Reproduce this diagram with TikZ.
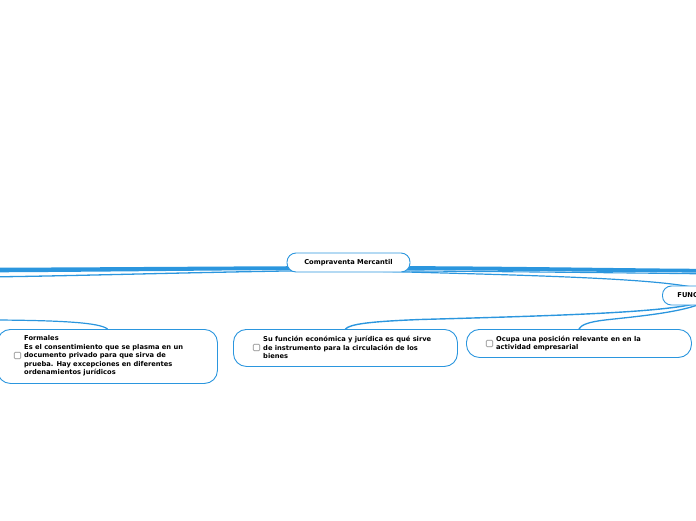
\documentclass[tikz,border=0pt]{standalone}
\usepackage{fontspec}
\setmainfont{DejaVu Sans}
\usetikzlibrary{calc,backgrounds}
\definecolor{mmblue}{RGB}{43,150,222}
\definecolor{boxgray}{RGB}{140,140,140}
\begin{document}
\begin{tikzpicture}[x=1pt,y=-1pt,
  font=\fontsize{6.7}{8.5}\selectfont\bfseries,
  topic/.style={draw=mmblue, line width=0.9pt, fill=white, rounded corners=9pt, minimum height=19pt, inner sep=0pt},
  card/.style={draw=mmblue, line width=0.9pt, fill=white, rounded corners=13pt, inner sep=0pt, anchor=north west},
  chk/.style={draw=boxgray, line width=0.6pt, rounded corners=1pt, minimum size=6.5pt, inner sep=0pt},
  txt/.style={anchor=west, align=left, inner sep=0pt},
  conn/.style={draw=mmblue, line cap=round}]
\useasboundingbox (0,0) rectangle (696,520);
\clip (0,0) rectangle (696,520);

% main topic
\node[topic, minimum width=123pt] (c) at (348.5,262.5) {Compraventa Mercantil};
% partially visible topic
\node[topic, anchor=west, text width=70pt, align=left, inner xsep=15pt] (func) at (662,295.5) {FUNCIONES};

% cards
\node[card, minimum width=220pt, minimum height=54pt] (formales) at (-3,329) {};
\node[card, minimum width=224pt, minimum height=37pt] (sufuncion) at (233,329) {};
\node[card, minimum width=225pt, minimum height=28pt] (ocupa) at (466,329) {};

\node[chk] (chk1) at (17.5,355.5) {};
\node[txt] (t1) at (24,356) {Formales\\Es el consentimiento que se plasma en un\\documento privado para que sirva de\\prueba. Hay excepciones en diferentes\\ordenamientos jurídicos};
\node[chk] (chk2) at (256.5,347.5) {};
\node[txt] (t2) at (263,347.5) {Su función económica y jurídica es qué sirve\\de instrumento para la circulación de los\\bienes};
\node[chk] (chk3) at (489.5,343.5) {};
\node[txt] (t3) at (496,343.5) {Ocupa una posición relevante en en la\\actividad empresarial};

% off-picture ends
\coordinate (offL) at (-2,270);
\coordinate (offL2) at (-2,276.8);
\coordinate (offL3) at (-2,320);
\coordinate (offR) at (698,270.7);
\coordinate (offR2) at (698,273.8);

\begin{pgfonlayer}{background}
  % thick tapered branches
  \fill[mmblue] ($(c.center)+(0,3.5)$) .. controls (200,266.5) and (100,267.4) .. ($(offL)+(0,-2.3)$)
     -- ($(offL)+(0,2.3)$) .. controls (100,271.8) and (200,270.5) .. ($(c.center)+(0,7)$) -- cycle;
  \fill[mmblue] ($(c.center)+(0,3.5)$) .. controls (500,266) and (600,268.2) .. ($(offR)+(0,-1.9)$)
     -- ($(offR)+(0,1.9)$) .. controls (600,272) and (500,270.5) .. ($(c.center)+(0,7)$) -- cycle;
  % thinner branches
  \draw[conn, line width=1.3pt] ($(c.center)+(0,7.5)$) .. controls (200,272) and (80,275.8) .. (offL2);
  \draw[conn, line width=1.1pt] ($(c.center)+(0,8)$) .. controls (500,271.5) and (620,272.8) .. (offR2);
  \draw[conn, line width=1.2pt] ($(c.center)+(0,8)$) .. controls (560,276) and (705,279) .. (func.center);
  % from FUNCIONES
  \draw[conn, line width=1.4pt] (func.center) .. controls (705,311) and (600,314.5) .. (420,319.5)
     .. controls (370,321.5) and (350,324) .. (sufuncion.north);
  \draw[conn, line width=1.3pt] (func.center) .. controls (703,311) and (640,316) .. (605,320)
     .. controls (588,322) and (581,325) .. (ocupa.north);
  % to Formales
  \draw[conn, line width=1.2pt] (offL3) .. controls (60,320.5) and (100,322.5) .. (formales.north);
\end{pgfonlayer}
\end{tikzpicture}
\end{document}
